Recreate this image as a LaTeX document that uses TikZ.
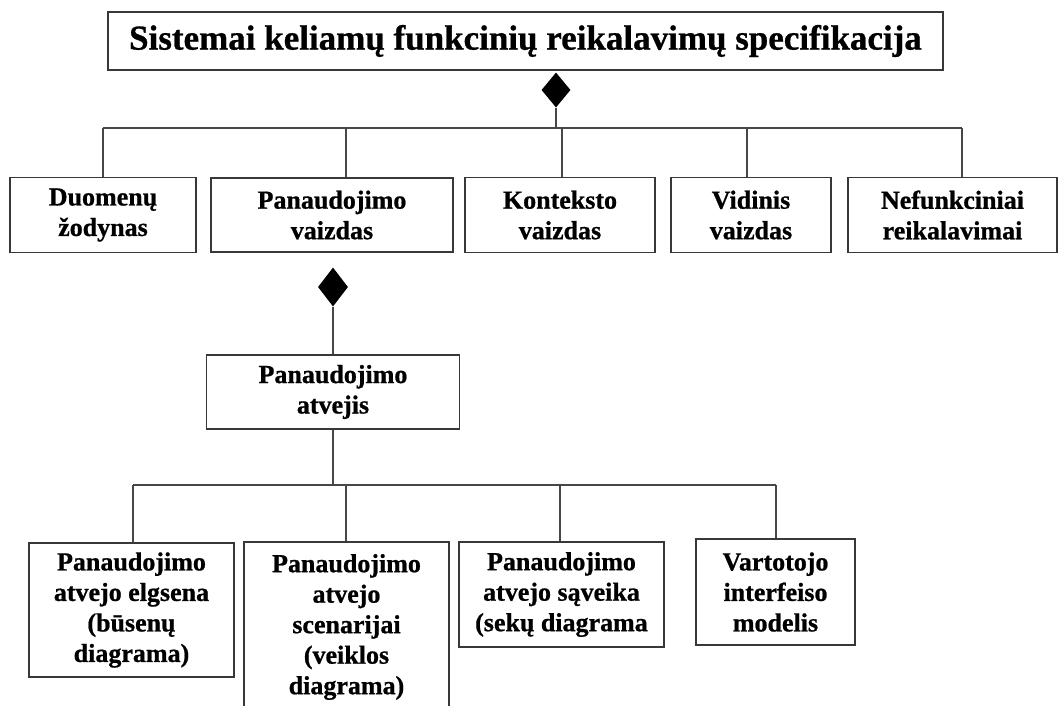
\documentclass[tikz,border=0pt]{standalone}
\usepackage{fontspec}
\setmainfont{Liberation Serif}[BoldFeatures={FakeBold=0.8}]
\usetikzlibrary{shapes.geometric}

\begin{document}
\begin{tikzpicture}[x=1pt, y=-1pt,
  box/.style={draw=black!78, line width=1.6pt, fill=white, align=center,
    inner sep=0pt, font=\fontsize{26}{30.5}\selectfont\bfseries},
  titlebox/.style={box, font=\fontsize{35}{40}\selectfont\bfseries},
  conn/.style={draw=black!72, line width=1.5pt},
  agg/.style={diamond, fill=black, draw=none, inner sep=0pt}
]
  \useasboundingbox (0,0) rectangle (1059,705);
  \clip (0,0) rectangle (1059,705);
  \fill[white] (0,0) rectangle (1059,705);

  % root
  \node[titlebox, minimum width=835, minimum height=58] (root) at (525.5,41)
    {Sistemai keliamų funkcinių reikalavimų specifikacija};
  \node[agg, minimum width=29, minimum height=35] (d1) at (556,90) {};

  % first level
  \node[box, minimum width=186, minimum height=75] (duom) at (103,215) {Duomenų\\žodynas};
  \node[box, minimum width=242, minimum height=74] (pvaiz) at (332,215) {Panaudojimo\\vaizdas};
  \node[box, minimum width=190, minimum height=75] (kont) at (560,215) {Konteksto\\vaizdas};
  \node[box, minimum width=160, minimum height=75] (vid) at (751,215) {Vidinis\\vaizdas};
  \node[box, minimum width=209, minimum height=75] (nef) at (952.5,215) {Nefunkciniai\\reikalavimai};

  \coordinate (b1) at (103,128);
  \coordinate (b2) at (346,128);
  \coordinate (b3) at (562,128);
  \coordinate (b4) at (747,128);
  \coordinate (b5) at (962,128);

  \draw[conn] (d1.south) -- (d1.south |- b1);
  \draw[conn] (b1) -- (b5);
  \draw[conn] (b1) -- (b1 |- duom.north);
  \draw[conn] (b2) -- (b2 |- pvaiz.north);
  \draw[conn] (b3) -- (b3 |- kont.north);
  \draw[conn] (b4) -- (b4 |- vid.north);
  \draw[conn] (b5) -- (b5 |- nef.north);

  % use case
  \node[agg, minimum width=30, minimum height=39] (d2) at (333,287) {};
  \node[box, minimum width=253, minimum height=74] (patv) at (333,392) {Panaudojimo\\atvejis};
  \draw[conn] (d2.south) -- (d2.south |- patv.north);

  % second level
  \node[box, minimum width=205, minimum height=134] (elg) at (131.5,610) {Panaudojimo\\atvejo elgsena\\(būsenų\\diagrama)};
  \node[box, minimum width=205, minimum height=170] (scen) at (346.5,627) {Panaudojimo\\atvejo\\scenarijai\\(veiklos\\diagrama)};
  \node[box, minimum width=205, minimum height=105] (sav) at (561.5,594.5) {Panaudojimo\\atvejo sąveika\\(sekų diagrama};
  \node[box, minimum width=159, minimum height=106] (vart) at (775.5,592) {Vartotojo\\interfeiso\\modelis};

  \coordinate (c1) at (133,485);
  \coordinate (c2) at (346,485);
  \coordinate (c3) at (560,485);
  \coordinate (c4) at (776,485);

  \draw[conn] (patv.south) -- (patv.south |- c1);
  \draw[conn] (c1) -- (c4);
  \draw[conn] (c1) -- (c1 |- elg.north);
  \draw[conn] (c2) -- (c2 |- scen.north);
  \draw[conn] (c3) -- (c3 |- sav.north);
  \draw[conn] (c4) -- (c4 |- vart.north);
\end{tikzpicture}
\end{document}
